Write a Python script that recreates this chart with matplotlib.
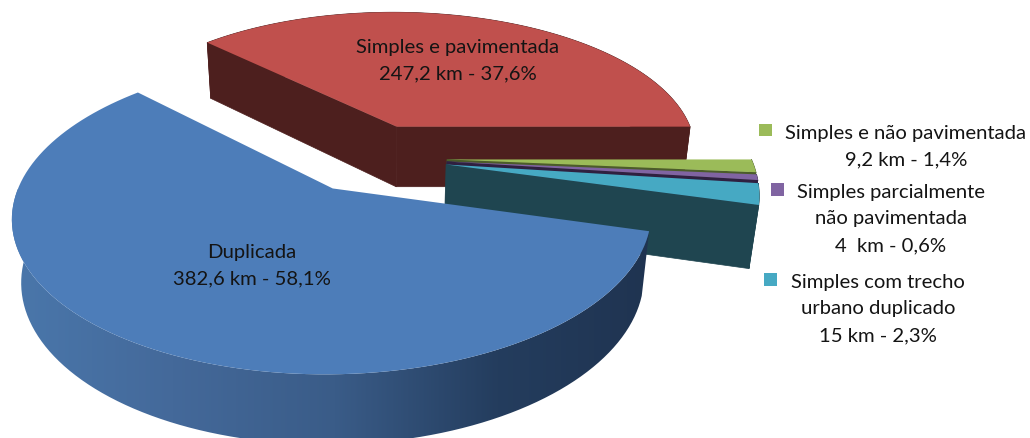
import numpy as np
import matplotlib
matplotlib.use('Agg')
import matplotlib.pyplot as plt
from matplotlib.patches import Polygon, Rectangle
from matplotlib.colors import LinearSegmentedColormap

# dados do grafico
categories = ['Duplicada', 'Simples e pavimentada', 'Simples e não pavimentada',
              'Simples parcialmente\nnão pavimentada', 'Simples com trecho\nurbano duplicado']
km_values = [382.6, 247.2, 9.2, 4, 15]
km_labels = ['382,6 km', '247,2 km', '9,2 km', '4  km', '15 km']
pct_labels = ['58,1%', '37,6%', '1,4%', '0,6%', '2,3%']
top_colors = ['#4d7db9', '#c0504d', '#9bbb59', '#8064a2', '#46a9c3']
wall_colors = ['#1f3550', '#4d1f1e', '#4b5c2a', '#2f2040', '#1f4550']

plt.rcParams['font.family'] = ['Lato', 'DejaVu Sans']

# projecao em perspectiva do disco
CX, CY = 373, 158
R, A, K, DEPTH, EXPLODE = 304, 143, 0.17, 63, 0.23
# ajuste fino de cada fatia em pixels
NUDGE = {0: (-4, 2), 1: (-2, -1), 2: (4, 1), 3: (4, 1), 4: (4, 1)}

def project(x, y, z=0.0):
    s = 1 / (1 + K * y + 0.025 * z)
    return CX + R * x * s, CY - A * y * s + DEPTH * z * s

def arc(ox, oy, a1, a2, z=0.0):
    t = np.radians(np.linspace(a1, a2, 120))
    return project(ox + np.cos(t), oy + np.sin(t), z)

fig = plt.figure(figsize=(10.3, 4.39), dpi=100)
ax = fig.add_axes([0, 0, 1, 1])
ax.set_xlim(0, 1030)
ax.set_ylim(439, 0)
ax.axis('off')

# angulos no sentido horario a partir da borda direita do vermelho
shares = np.array(km_values) / sum(km_values) * 360
# ordem de desenho: fundo para frente
order = [1, 2, 3, 4, 0]
ends = {}
start = 0.0
for i in [2, 3, 4, 0, 1]:
    ends[i] = (start - shares[i], start)
    start -= shares[i]

side_cmap = LinearSegmentedColormap.from_list(
    'side', ['#4a77ab', '#44699a', '#3a5c88', '#243d5e', '#1f3350'])

for n, i in enumerate(order):
    a1, a2 = ends[i]
    mid = np.radians((a1 + a2) / 2)
    ox, oy = EXPLODE * np.cos(mid), EXPLODE * np.sin(mid)
    dx, dy = NUDGE[i]
    apex_t = np.array(project(ox, oy)) + (dx, dy)
    apex_b = np.array(project(ox, oy, 1)) + (dx, dy)
    tx, ty = arc(ox, oy, a1, a2)
    bx, by = arc(ox, oy, a1, a2, 1)
    tx, ty, bx, by = tx + dx, ty + dy, bx + dx, by + dy

    # borda externa
    rim = np.column_stack([np.r_[tx, bx[::-1]], np.r_[ty, by[::-1]]])
    if i == 0:
        patch = Polygon(rim, closed=True, fc='none', ec='none', zorder=n * 3 + 1)
        ax.add_patch(patch)
        grad = np.linspace(0, 1, 256).reshape(1, -1)
        im = ax.imshow(grad, extent=[10, 660, 439, 190], cmap=side_cmap, aspect='auto', zorder=n * 3 + 1)
        im.set_clip_path(patch)
        ax.set_xlim(0, 1030)
        ax.set_ylim(439, 0)
    else:
        ax.add_patch(Polygon(rim, closed=True, fc=wall_colors[i], ec=wall_colors[i], lw=0.5, zorder=n * 3 + 1))

        # paredes do corte
        for k in ([0, -1] if i == 1 else [0]):
            wall = [apex_t, (tx[k], ty[k]), (bx[k], by[k]), apex_b]
            ax.add_patch(Polygon(wall, closed=True, fc=wall_colors[i], ec=wall_colors[i], lw=0.5, zorder=n * 3 + 1))

    top = np.column_stack([np.r_[apex_t[0], tx], np.r_[apex_t[1], ty]])
    ax.add_patch(Polygon(top, closed=True, fc=top_colors[i], ec='none', zorder=n * 3 + 2))

TXT = '#141414'
FS = 14.6
LS = 1.68
ax.text(458, 61, categories[1] + '\n' + km_labels[1] + ' - ' + pct_labels[1], ha='center', va='center',
        fontsize=FS, color=TXT, linespacing=LS, zorder=30)
ax.text(252, 266, categories[0] + '\n' + km_labels[0] + ' - ' + pct_labels[0], ha='center', va='center',
        fontsize=FS, color=TXT, linespacing=LS, zorder=30)
ax.text(906, 147, categories[2] + '\n' + km_labels[2] + ' - ' + pct_labels[2], ha='center', va='center',
        fontsize=FS, color=TXT, linespacing=LS, zorder=30)
ax.text(891, 219, categories[3] + '\n' + km_labels[3] + ' - ' + pct_labels[3], ha='center', va='center',
        fontsize=FS, color=TXT, linespacing=LS, zorder=30)
ax.text(878, 309, categories[4] + '\n' + km_labels[4] + ' - ' + pct_labels[4], ha='center', va='center',
        fontsize=FS, color=TXT, linespacing=LS, zorder=30)

# quadradinhos da legenda
ax.add_patch(Rectangle((759, 125), 13, 12, fc=top_colors[2], ec='none', zorder=30))
ax.add_patch(Rectangle((771, 184), 13, 13, fc=top_colors[3], ec='none', zorder=30))
ax.add_patch(Rectangle((764, 274), 13, 13, fc=top_colors[4], ec='none', zorder=30))

fig.savefig('out.png', dpi=100, facecolor='white')
